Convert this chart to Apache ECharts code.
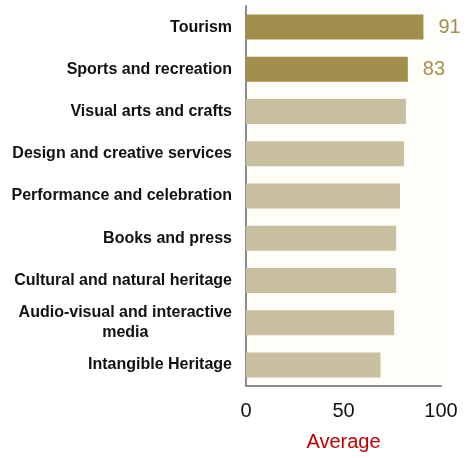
<!DOCTYPE html>
<html>
<head>
<meta charset="utf-8">
<script src="https://cdn.jsdelivr.net/npm/echarts@6/dist/echarts.min.js"></script>
<style>
  html, body { margin: 0; padding: 0; background: #ffffff; }
  #chart { width: 467px; height: 458px; }
</style>
</head>
<body>
<div id="chart"></div>
<script>
// Sectors, listed top to bottom
const categories = [
  'Tourism',
  'Sports and recreation',
  'Visual arts and crafts',
  'Design and creative services',
  'Performance and celebration',
  'Books and press',
  'Cultural and natural heritage',
  'Audio-visual and interactive media',
  'Intangible Heritage'
];
// Average score per sector
const averages = [91, 83, 82, 81, 79, 77, 77, 76, 69];
// Sectors that are emphasised and carry a value label
const highlighted = ['Tourism', 'Sports and recreation'];
// Value axis ticks
const xTicks = [0, 50, 100];

const DARK = '#a38f4d';
const LIGHT = '#c8bfa0';
const FONT = 'Liberation Sans, Arial, sans-serif';

// Wrapped labels keep each line centred under the longest one
function wrapLabel(name) {
  const lines = name === 'Audio-visual and interactive media'
    ? ['Audio-visual and interactive', 'media']
    : [name];
  return lines.map(l => '{c|' + l + '}').join('\n');
}

const chart = echarts.init(document.getElementById('chart'), null, { renderer: 'canvas' });

chart.setOption({
  animation: false,
  backgroundColor: '#ffffff',
  grid: {
    left: 246, right: 26, top: 6, bottom: 72,
    show: true,
    backgroundColor: '#fffdf8',
    borderWidth: 0
  },
  xAxis: {
    type: 'value',
    min: xTicks[0],
    max: xTicks[xTicks.length - 1],
    interval: xTicks[1] - xTicks[0],
    name: 'Average',
    nameLocation: 'middle',
    nameGap: 46,
    nameTextStyle: { color: '#c00000', fontSize: 20, fontFamily: FONT },
    axisLine: { show: true, lineStyle: { color: '#8c8c8c', width: 2 } },
    axisTick: { show: false },
    splitLine: { show: false },
    axisLabel: {
      color: '#111111',
      fontSize: 20,
      margin: 15,
      fontFamily: FONT
    }
  },
  yAxis: {
    type: 'category',
    data: categories,
    inverse: true,
    axisLine: { show: true, lineStyle: { color: '#8c8c8c', width: 2 } },
    axisTick: { show: false },
    splitLine: { show: false },
    axisLabel: {
      margin: 14,
      formatter: wrapLabel,
      rich: {
        c: {
          align: 'center',
          color: '#111111',
          fontSize: 16,
          fontWeight: 'bold',
          lineHeight: 20,
          fontFamily: FONT
        }
      }
    }
  },
  series: [{
    type: 'bar',
    barWidth: 25,
    data: averages.map((v, i) => {
      const hi = highlighted.includes(categories[i]);
      return {
        value: v,
        itemStyle: { color: hi ? DARK : LIGHT },
        label: {
          show: hi,
          position: 'right',
          distance: 15,
          color: DARK,
          fontSize: 20,
          fontFamily: FONT
        }
      };
    })
  }]
});
</script>
</body>
</html>
